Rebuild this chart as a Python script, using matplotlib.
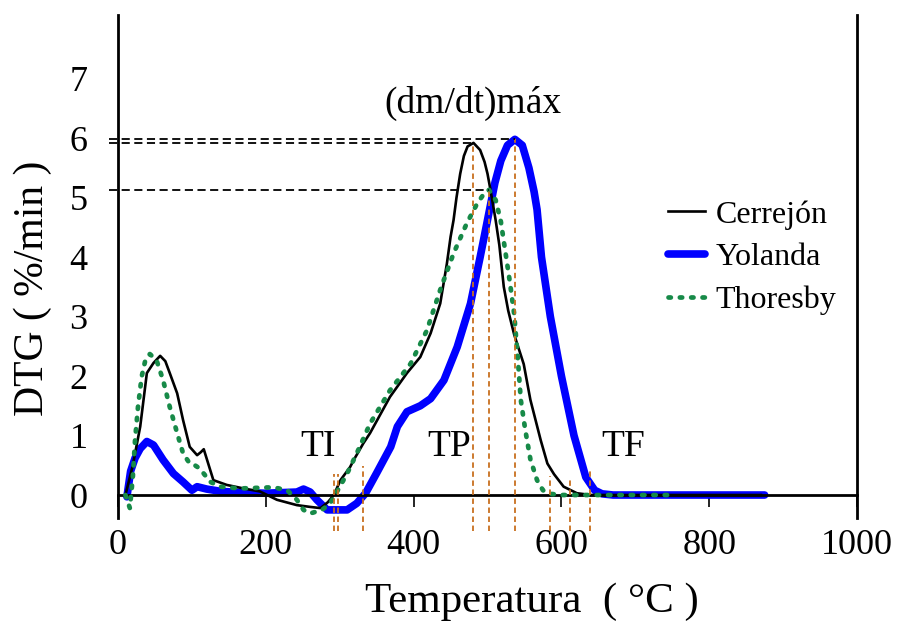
import matplotlib
matplotlib.use("Agg")
import matplotlib.pyplot as plt

plt.rcParams["font.family"] = ["Liberation Serif", "DejaVu Serif"]

# DTG curves (temperature in °C, rate in %/min)
cerrejon_t = [10, 20, 30, 39, 48, 57, 64, 70, 80, 88, 97, 107, 112, 116, 122, 129, 147, 170, 192,
              215, 242, 260, 274, 284, 292, 301, 314, 319, 332, 341, 368, 391, 409, 423, 436, 445,
              450, 454, 458, 463, 468, 473, 481, 490, 496, 500, 504, 511, 516, 522, 528, 536, 549,
              558, 572, 581, 590, 603, 621, 640, 870]
cerrejon_dtg = [0.0, 0.5, 1.15, 2.05, 2.22, 2.34, 2.25, 2.05, 1.71, 1.26, 0.81, 0.67, 0.72, 0.77,
                0.53, 0.25, 0.17, 0.11, 0.06, -0.08, -0.17, -0.2, -0.22, -0.12, 0.0, 0.25, 0.47,
                0.59, 0.87, 1.04, 1.65, 2.05, 2.32, 2.72, 3.22, 3.89, 4.34, 4.62, 5.0, 5.4, 5.7,
                5.86, 5.92, 5.8, 5.6, 5.4, 5.13, 4.62, 4.2, 3.5, 3.1, 2.7, 2.2, 1.6, 0.92, 0.53,
                0.35, 0.14, 0.03, 0.0, 0.0]

yolanda_t = [12, 17, 23, 30, 39, 48, 61, 75, 88, 100, 107, 120, 140, 170, 200, 242, 251, 260, 269,
             283, 310, 323, 335, 350, 369, 378, 391, 409, 423, 441, 459, 477, 490, 502, 510, 518,
             527, 537, 547, 556, 563, 567, 573, 585, 600, 617, 633, 645, 655, 670, 875]
yolanda_dtg = [-0.03, 0.4, 0.62, 0.78, 0.9, 0.84, 0.59, 0.36, 0.22, 0.08, 0.14, 0.1, 0.06, 0.04,
               0.03, 0.05, 0.1, 0.05, -0.08, -0.25, -0.25, -0.14, 0.03, 0.37, 0.81, 1.15, 1.4,
               1.5, 1.62, 1.93, 2.49, 3.22, 4.0, 4.75, 5.25, 5.62, 5.88, 5.98, 5.88, 5.5, 5.1,
               4.8, 4.0, 3.0, 2.0, 1.0, 0.3, 0.08, 0.02, 0.0, 0.0]

thoresby_t = [10, 16, 20, 23, 27, 32, 37, 43, 52, 61, 70, 80, 88, 97, 104, 110, 116, 125, 138, 165,
              210, 229, 242, 251, 260, 276, 287, 296, 310, 323, 341, 368, 396, 418, 436, 454, 472,
              486, 496, 502, 511, 518, 524, 530, 536, 541, 545, 551, 558, 567, 575, 585, 600, 750]
thoresby_dtg = [0.0, -0.22, 0.3, 0.92, 1.48, 1.99, 2.27, 2.37, 2.27, 1.93, 1.48, 1.04, 0.7, 0.53,
                0.5, 0.45, 0.36, 0.22, 0.14, 0.11, 0.13, 0.08, -0.08, -0.25, -0.31, -0.25, -0.14,
                0.05, 0.36, 0.7, 1.2, 1.76, 2.21, 2.77, 3.45, 4.06, 4.57, 4.9, 5.08, 5.13, 4.96,
                4.6, 4.1, 3.6, 3.05, 2.3, 1.6, 1.1, 0.6, 0.25, 0.08, 0.02, 0.0, 0.0]

# characteristic temperatures: ignition, peak and burnout
ti_temps = [292, 298, 331]
ti_tops = [0.35, 0.35, 0.48]
peak_temps = [481, 502, 537]
peak_rates = [5.92, 5.13, 5.98]
tf_temps = [584, 612, 638]
tf_tops = [0.32, 0.29, 0.45]

orange = "#c8701f"
green = "#178a48"

fig = plt.figure(figsize=(8.99, 6.33), dpi=100)
ax = fig.add_axes([0.1313, 0.1616, 0.822, 0.8147])

ax.plot(yolanda_t, yolanda_dtg, color="#0000ff", lw=5.5, label="Yolanda", zorder=2,
        solid_joinstyle="round", solid_capstyle="round")
ax.plot(cerrejon_t, cerrejon_dtg, color="black", lw=1.9, label="Cerrejón", zorder=3)
ax.plot(thoresby_t, thoresby_dtg, color=green, lw=3.4, linestyle=(0, (0.5, 1.9)),
        dash_capstyle="round", label="Thoresby", zorder=4)

# markers for ignition, peak and burnout temperatures
bottom = -0.6
ax.vlines(ti_temps, bottom, ti_tops, colors=orange, lw=1.3, linestyles=(0, (3, 2)), zorder=5)
ax.vlines(peak_temps, bottom, peak_rates, colors=orange, lw=1.3, linestyles=(0, (3, 2)), zorder=5)
ax.vlines(tf_temps, bottom, tf_tops, colors=orange, lw=1.3, linestyles=(0, (3, 2)), zorder=5)
ax.hlines(peak_rates, -12, peak_temps, colors="black", lw=1.3, linestyles=(0, (4.5, 2.5)),
          zorder=5, clip_on=False)

ax.text(271, 0.81, "TI", fontsize=27, ha="center", va="center")
ax.text(448, 0.81, "TP", fontsize=27, ha="center", va="center")
ax.text(683, 0.81, "TF", fontsize=27, ha="center", va="center")
ax.text(480, 6.59, "(dm/dt)máx", fontsize=27, ha="center", va="center")

ax.set_xlim(0, 1000)
ax.set_ylim(bottom, 8.07)
ax.spines["top"].set_visible(False)
ax.spines["bottom"].set_position(("data", 0))
ax.spines["bottom"].set_linewidth(2)
for side in ("left", "right"):
    ax.spines[side].set_bounds(-0.38, 8.07)
    ax.spines[side].set_linewidth(2)

ax.set_xticks([0, 200, 400, 600, 800, 1000])
ax.set_yticks(range(8))
ax.tick_params(axis="x", direction="out", length=8.5, width=1.2, pad=16, labelsize=26)
ax.tick_params(axis="y", length=0, pad=22, labelsize=26)

ax.set_xlabel("Temperatura  ( °C )", fontsize=31)
ax.xaxis.set_label_coords(0.56, -0.1)
ax.set_ylabel("DTG ( %/min )", fontsize=30)
ax.yaxis.set_label_coords(-0.09, 0.47)

handles, labels = ax.get_legend_handles_labels()
order = [1, 0, 2]
ax.legend([handles[i] for i in order], [labels[i] for i in order],
          loc="upper left", bbox_to_anchor=(668 / 899, 1 - 200 / 633),
          bbox_transform=fig.transFigure, frameon=False, fontsize=23,
          handlelength=1.15, handletextpad=0.35, labelspacing=0.42,
          borderpad=0, borderaxespad=0)

fig.savefig("out.png", dpi=100)
